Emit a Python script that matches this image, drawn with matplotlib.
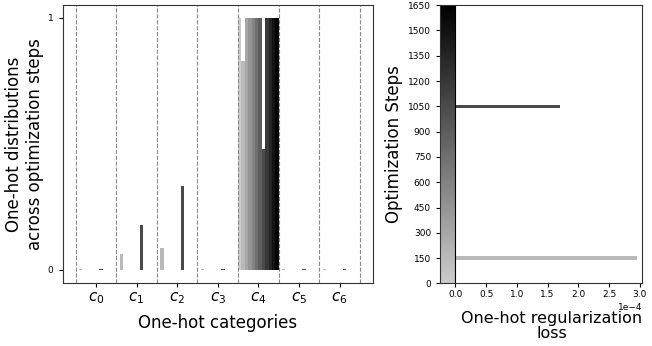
import matplotlib
matplotlib.use('Agg')
import matplotlib.pyplot as plt
import numpy as np

# optimization steps that were logged
steps = [0, 150, 300, 450, 600, 750, 900, 1050, 1200, 1350, 1500, 1650]
categories = ['$c_0$', '$c_1$', '$c_2$', '$c_3$', '$c_4$', '$c_5$', '$c_6$']

# one-hot distribution per logged step (rows) over the categories (columns)
onehot = [
    [0.0, 0.0, 0.0, 0.0, 1.0, 0.0, 0.0],
    [0.004, 0.063, 0.087, 0.004, 0.83, 0.004, 0.004],
    [0.0, 0.0, 0.0, 0.0, 1.0, 0.0, 0.0],
    [0.0, 0.0, 0.0, 0.0, 1.0, 0.0, 0.0],
    [0.0, 0.0, 0.0, 0.0, 1.0, 0.0, 0.0],
    [0.0, 0.0, 0.0, 0.0, 1.0, 0.0, 0.0],
    [0.0, 0.0, 0.0, 0.0, 1.0, 0.0, 0.0],
    [0.003, 0.176, 0.332, 0.003, 0.48, 0.003, 0.004],
    [0.0, 0.0, 0.0, 0.0, 1.0, 0.0, 0.0],
    [0.0, 0.0, 0.0, 0.0, 1.0, 0.0, 0.0],
    [0.0, 0.0, 0.0, 0.0, 1.0, 0.0, 0.0],
    [0.0, 0.0, 0.0, 0.0, 1.0, 0.0, 0.0],
]

# regularization loss at each logged step
reg_loss = [0.0, 2.95e-4, 0.0, 0.0, 0.0, 0.0, 0.0, 1.70e-4, 0.0, 0.0, 0.0, 0.0]

max_step = steps[-1]


def step_gray(s):
    # light gray at the start, black at the end
    return str(0.8 * (1 - s / max_step))


fig = plt.figure(figsize=(6.52, 3.46), dpi=100)
ax1 = fig.add_axes([0.096, 0.181, 0.476, 0.804])
ax2 = fig.add_axes([0.675, 0.181, 0.310, 0.804])

for ax in (ax1, ax2):
    for sp in ax.spines.values():
        sp.set_color('#333333')

# left: grouped bars, one group per category, one bar per step
nsteps = len(steps)
w = 1.0 / nsteps
x = np.arange(len(categories))
for i, s in enumerate(steps):
    pos = x - 0.5 + (i + 0.5) * w
    ax1.bar(pos, onehot[i], width=w, color=step_gray(s), edgecolor='none')

for b in np.arange(len(categories) + 1) - 0.5:
    ax1.axvline(b, color='#888888', linestyle='--', linewidth=0.8)

ax1.set_xlim(-0.82, 6.82)
ax1.set_ylim(-0.055, 1.05)
ax1.set_xticks(x)
ax1.set_xticklabels(categories, fontsize=11)
ax1.set_yticks([0, 1])
ax1.tick_params(axis='y', labelsize=6.5, length=3)
ax1.tick_params(axis='x', length=3, pad=2)
ax1.set_xlabel('One-hot categories', fontsize=12, labelpad=6)
ax1.set_ylabel('One-hot distributions\nacross optimization steps', fontsize=12,
               labelpad=3)

# right: step colour strip plus horizontal bars of the loss
grad = np.linspace(0, max_step, 200)
ax2.imshow((0.8 * (1 - grad / max_step))[:, None], cmap='gray', vmin=0, vmax=1,
           origin='lower', aspect='auto', extent=(-0.25e-4, 0, 0, max_step))
ax2.barh(steps, reg_loss, height=20, color=[step_gray(s) for s in steps],
         edgecolor='none')
ax2.axvline(0, color='black', linewidth=0.8)

ax2.set_xlim(-0.25e-4, 3.04e-4)
ax2.set_ylim(0, max_step)
ax2.set_yticks(np.arange(0, max_step + 1, 150))
ax2.set_xticks(np.arange(0, 3.01e-4, 0.5e-4))
ax2.ticklabel_format(axis='x', style='sci', scilimits=(0, 0))
ax2.tick_params(labelsize=6.5, length=3)
ax2.tick_params(axis='x', pad=1.5)
ax2.xaxis.get_offset_text().set_fontsize(6.5)
ax2.set_xlabel('One-hot regularization\nloss', fontsize=11.5, loc='right',
               multialignment='center', linespacing=0.95, labelpad=9)
ax2.set_ylabel('Optimization Steps', fontsize=12, labelpad=4)

fig.savefig('out.png', dpi=100)
